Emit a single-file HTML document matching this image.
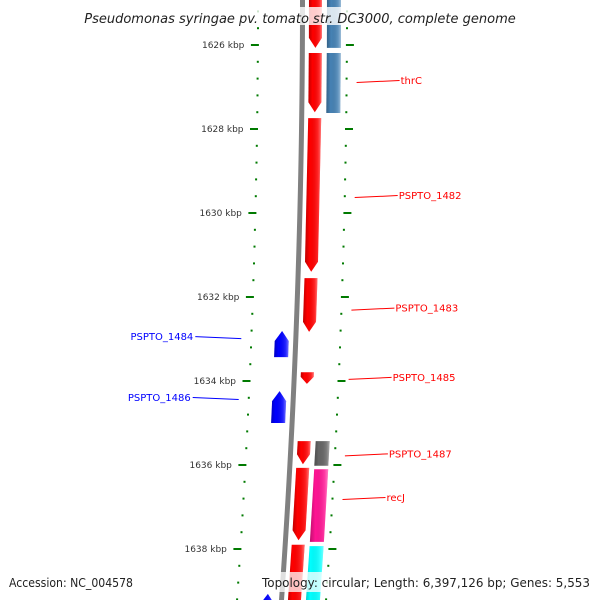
<!DOCTYPE html>
<html><head><meta charset="utf-8"><style>
body{margin:0;background:#fff}
svg{display:block}
text{font-family:"DejaVu Sans","Liberation Sans",sans-serif}
</style></head><body>
<svg id="map" width="600" height="600" viewBox="0 0 600 600" xmlns="http://www.w3.org/2000/svg">
<defs>
<linearGradient id="gshade" x1="0" x2="1" y1="0" y2="0">
<stop offset="0" stop-color="#000" stop-opacity="0.25"/>
<stop offset="0.3" stop-color="#000" stop-opacity="0"/>
<stop offset="0.8" stop-color="#fff" stop-opacity="0.15"/>
<stop offset="1" stop-color="#fff" stop-opacity="0.45"/>
</linearGradient>
</defs>
<g id="ticks"></g>
<g id="backbone"></g>
<g id="genes"></g>
<g id="labels"></g>
<g>
<rect x="70" y="7" width="460" height="18" fill="#fff" opacity="0.8"/>
<text x="300" y="23" text-anchor="middle" font-size="13" font-style="italic" fill="#222">Pseudomonas syringae pv. tomato str. DC3000, complete genome</text>
</g>
<g>
<rect x="4" y="572" width="130" height="20" fill="#fff" opacity="0.8"/>
<text x="9" y="587" font-size="12" fill="#222" textLength="124" lengthAdjust="spacingAndGlyphs">Accession: NC_004578</text>
<rect x="258" y="572" width="336" height="20" fill="#fff" opacity="0.75"/>
<text x="262" y="587" font-size="12" fill="#222" textLength="328" lengthAdjust="spacingAndGlyphs">Topology: circular; Length: 6,397,126 bp; Genes: 5,553</text>
</g>
</svg>
<script>
const majorTicks = [1624, 1626, 1628, 1630, 1632, 1634, 1636, 1638, 1640];
const minorStep = 0.4;
const geneStarts = [1624.45, 1626.19, 1627.74, 1631.55, 1633.79, 1635.43, 1636.07, 1637.90,
                    1624.45, 1626.19, 1635.43, 1636.10, 1637.93,
                    1632.81, 1634.24, 1639.07];
const geneEnds   = [1626.07, 1627.60, 1631.40, 1632.83, 1634.07, 1635.98, 1637.79, 1639.69,
                    1626.07, 1627.62, 1636.02, 1637.83, 1639.70,
                    1633.43, 1635.00, 1639.90];
const geneStrand = [1,1,1,1,1,1,1,1, 1,1,1,1,1, -1,-1,-1];
const geneTrack  = [1,1,1,1,1,1,1,1, 2,2,2,2,2, -1,-1,-1];
const geneColor  = ["#ff0000","#ff0000","#ff0000","#ff0000","#ff0000","#ff0000","#ff0000","#ff0000",
                    "#4682b4","#4682b4","#666666","#ff1493","#00ffff",
                    "#0000ff","#0000ff","#0000ff"];
const geneArrow  = [1,1,1,1,1,1,1,1, 0,0,0,0,0, 1,1,1];
const labelNames = ["thrC","PSPTO_1482","PSPTO_1483","PSPTO_1484","PSPTO_1485","PSPTO_1486","PSPTO_1487","recJ"];
const labelPos   = [1626.88, 1629.62, 1632.30, 1632.98, 1633.95, 1634.43, 1635.77, 1636.81];
const labelSide  = [1,1,1,-1,1,-1,1,1];

const NS="http://www.w3.org/2000/svg";
function yScale(k){return 45+(k-1626)*42;}
function xAt(y,off){return 302.5+off-0.0000583*y*y;}
function mk(tag,attrs,parent){const e=document.createElementNS(NS,tag);for(const a in attrs)e.setAttribute(a,attrs[a]);parent.appendChild(e);return e;}

// backbone
const bb=document.getElementById('backbone');
let d="";for(let y=-10;y<=610;y+=10){d+=(y===-10?"M":"L")+xAt(y,0).toFixed(2)+","+y;}
const bpath=mk('path',{d:d,fill:"none",stroke:"#808080","stroke-width":5},bb);



// ticks
const tg=document.getElementById('ticks');
for(let k=1624;k<=1640.001;k+=minorStep){
  const kr=Math.round(k*10)/10;const y=yScale(kr);
  if(y<-5||y>605)continue;
  const isMajor=majorTicks.some(m=>Math.abs(m-kr)<1e-6);
  [-1,1].forEach(s=>{
    const x=xAt(y,s*44.5);
    let r;
    if(isMajor){r=mk('rect',{x:(s<0?x-7:x-1).toFixed(1),y:y-1,width:8,height:2,fill:"#007a00"},tg);}
    else{r=mk('rect',{x:(x-1).toFixed(1),y:y-1,width:2,height:2,fill:"#007a00"},tg);}
    
    
  });
  if(isMajor){
    const t=mk('text',{x:(xAt(y,-58)).toFixed(1),y:y+3,"text-anchor":"end","font-size":"9",fill:"#333"},tg);
    t.textContent=kr+" kbp";
    
    
  }
}

// genes
const gg=document.getElementById('genes');
const trackOff={"1":[6.5,19.5],"2":[24.5,38.5],"-1":[-21,-7]};
for(let i=0;i<geneStarts.length;i++){
  const y1=yScale(geneStarts[i]),y2=yScale(geneEnds[i]);
  const [o1,o2]=trackOff[String(geneTrack[i])];
  const ah=Math.min(10,(y2-y1)*0.6);
  let pts;
  const xa=y=>xAt(y,o1), xb=y=>xAt(y,o2);
  if(!geneArrow[i]){
    pts=[[xa(y1),y1],[xb(y1),y1],[xb(y2),y2],[xa(y2),y2]];
  }else if(geneStrand[i]>0){
    const yt=y2-ah,ym=y2;
    pts=[[xa(y1),y1],[xb(y1),y1],[xb(yt),yt],[(xa(ym)+xb(ym))/2,ym],[xa(yt),yt]];
  }else{
    const yt=y1+ah;
    pts=[[(xa(y1)+xb(y1))/2,y1],[xb(yt),yt],[xb(y2),y2],[xa(y2),y2],[xa(yt),yt]];
  }
  const ps=pts.map(p=>p[0].toFixed(1)+","+p[1].toFixed(1)).join(" ");
  const g=mk('g',{},gg);
  
  
  mk('polygon',{points:ps,fill:geneColor[i]},g);
  mk('polygon',{points:ps,fill:"url(#gshade)"},g);
}

// labels
const lg=document.getElementById('labels');
for(let i=0;i<labelNames.length;i++){
  const y=yScale(labelPos[i]);const s=labelSide[i];
  const col=s>0?"#ff0000":"#0000ff";
  const x1=xAt(y,s*54.5);
  const x2=s>0?x1+43:x1-46;
  const ln=mk('line',{x1:x1.toFixed(1),y1:y+0.5,x2:x2.toFixed(1),y2:y-1.5,stroke:col,"stroke-width":1},lg);
  
  
  const t=mk('text',{x:(s>0?x2+1:x2-2).toFixed(1),y:y+2,"text-anchor":s>0?"start":"end","font-size":"10",fill:col},lg);
  t.textContent=labelNames[i];
  
  
}
</script>
</body></html>
